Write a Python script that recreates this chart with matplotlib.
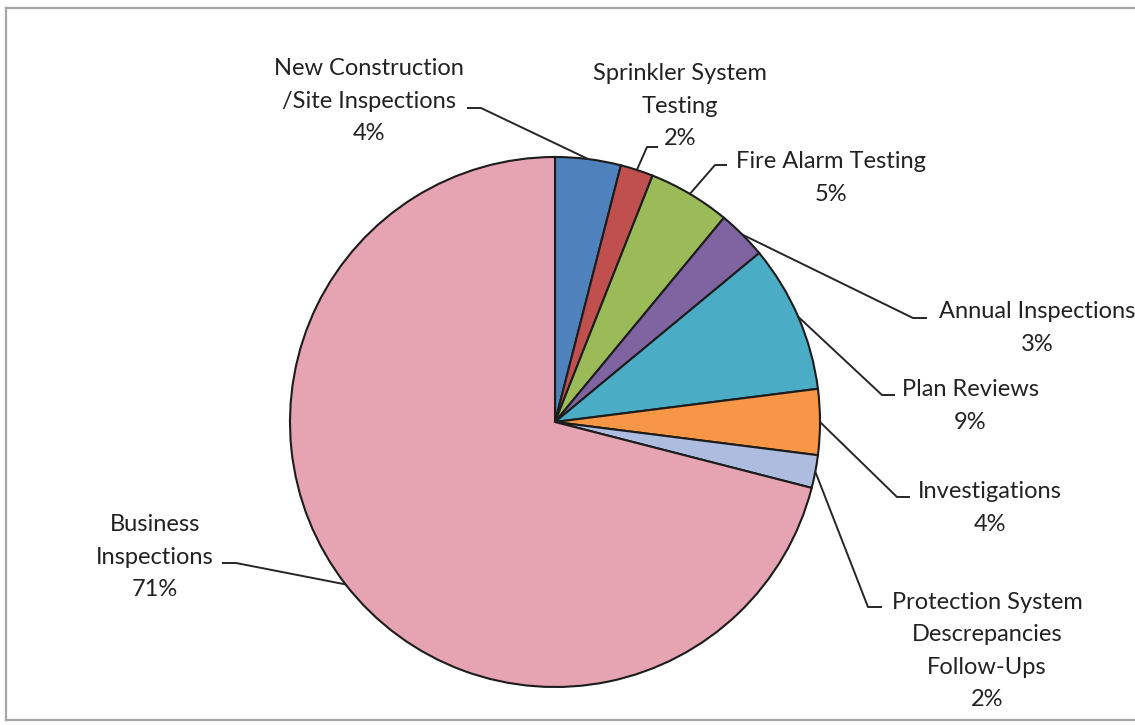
import numpy as np
import matplotlib
matplotlib.use("Agg")
import matplotlib.pyplot as plt

# Inspection activity breakdown
categories = [
    "New Construction\n/Site Inspections",
    "Sprinkler System\nTesting",
    "Fire Alarm Testing",
    "Annual Inspections",
    "Plan Reviews",
    "Investigations",
    "Protection System\nDescrepancies\nFollow-Ups",
    "Business\nInspections",
]
percents = [4, 2, 5, 3, 9, 4, 2, 71]
colors = ["#4F81BD", "#C0504D", "#9BBB59", "#8064A2",
          "#4BACC6", "#F79646", "#AEBCE0", "#E6A3B1"]

W, H = 1135, 725
DPI = 100

# Label layout in pixel space (top-left origin): block centre, text-side tick end, elbow
label_center = [(369, 101), (680, 106), (831, 178), (1037, 328),
                (970, 406), (990, 508), (987, 651), (155, 557)]
tick_text_end = [(467, 108), (658, 147), (727, 165), (927, 318),
                 (895, 395), (910, 497), (882, 607), (222, 563)]
tick_elbow = [(481, 108), (647, 147), (715, 165), (913, 318),
              (882, 395), (897, 497), (868, 607), (236, 563)]

pie_cx, pie_cy, pie_r = 555, 422, 265
line_gap = 32.5
text_color = "#222222"


def Y(y):
    return H - y


fig = plt.figure(figsize=(W / DPI, H / DPI), dpi=DPI)
fig.patch.set_facecolor("white")
ax = fig.add_axes([0, 0, 1, 1])

wedges, _ = ax.pie(
    percents,
    colors=colors,
    startangle=90,
    counterclock=False,
    radius=pie_r,
    center=(pie_cx, Y(pie_cy)),
    wedgeprops=dict(edgecolor="#1c1c1c", linewidth=1.5),
)

ax.set_xlim(0, W)
ax.set_ylim(0, H)
ax.set_aspect("auto")
ax.axis("off")

for i, (name, pct) in enumerate(zip(categories, percents)):
    w = wedges[i]
    mid = np.deg2rad((w.theta1 + w.theta2) / 2.0)
    px = pie_cx + pie_r * np.cos(mid)
    py = Y(pie_cy) + pie_r * np.sin(mid)

    (tx, ty), (ex, ey) = tick_text_end[i], tick_elbow[i]
    ax.plot([tx, ex, px], [Y(ty), Y(ey), py], color="#262626", lw=1.4,
            solid_capstyle="butt", zorder=3)

    lines = name.split("\n") + [f"{pct}%"]
    cx, cy = label_center[i]
    n = len(lines)
    for j, s in enumerate(lines):
        yy = cy + (j - (n - 1) / 2.0) * line_gap
        ax.text(cx, Y(yy), s, ha="center", va="center", fontsize=17,
                family="Lato", color=text_color)

# Chart area frame
frame_kw = dict(color="#a6a6a6", lw=1.6, zorder=5)
ax.plot([6, W + 5], [Y(8), Y(8)], **frame_kw)
ax.plot([6, 6], [Y(8), Y(720)], **frame_kw)
ax.plot([6, W + 5], [Y(720), Y(720)], **frame_kw)

fig.savefig("out.png", dpi=DPI, facecolor="white")
